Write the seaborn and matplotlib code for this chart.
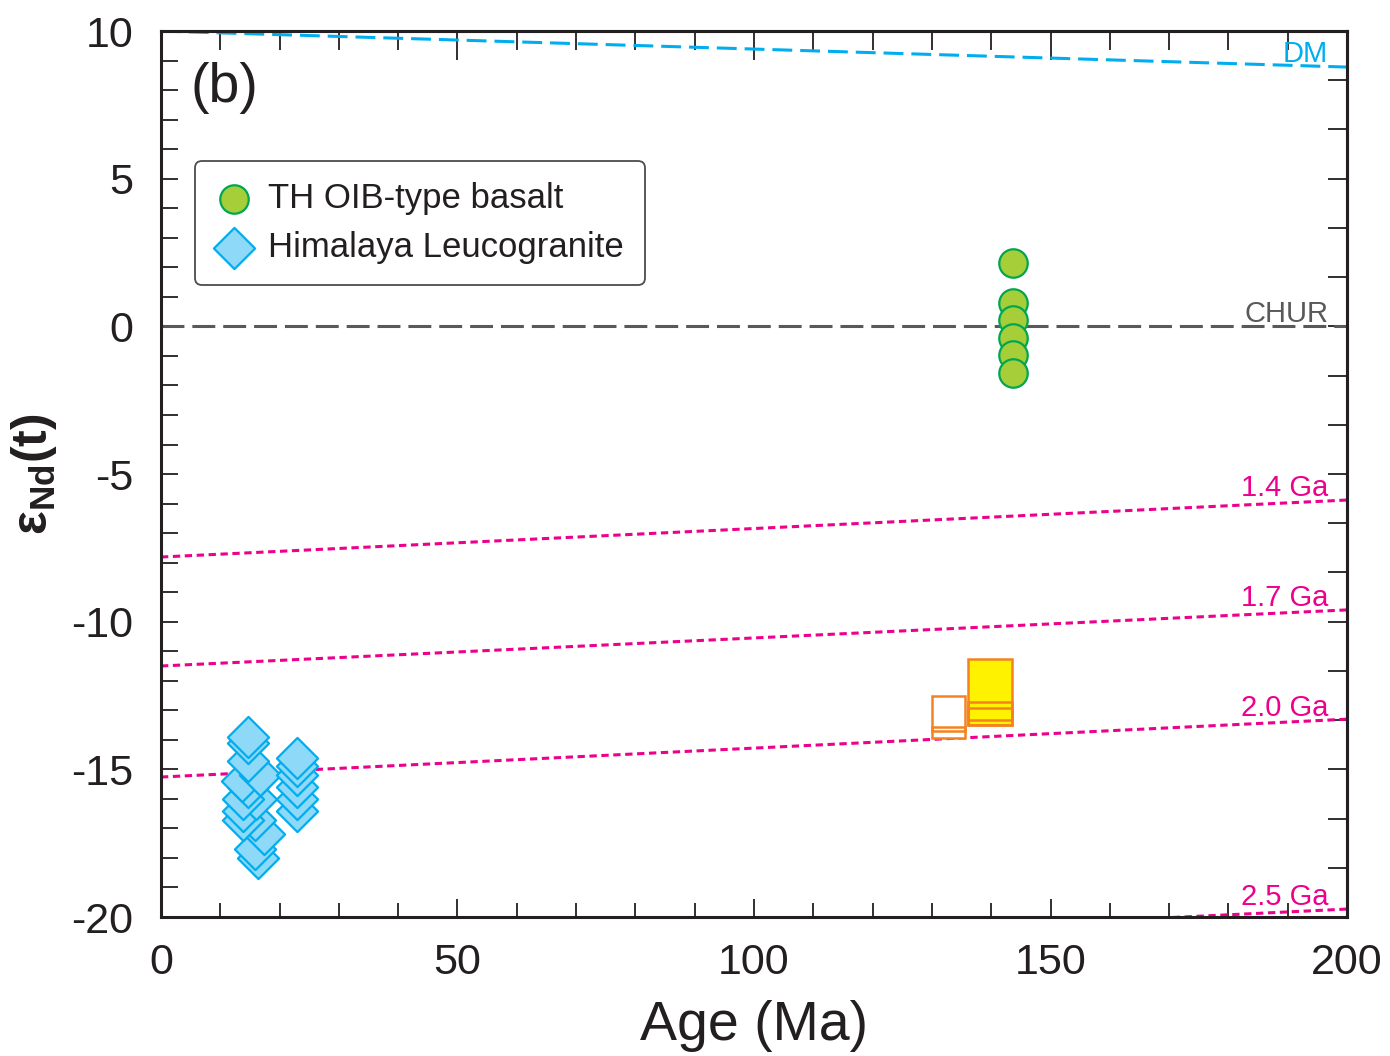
import numpy as np
import pandas as pd
import matplotlib
matplotlib.use("Agg")
import matplotlib.pyplot as plt
from matplotlib.patches import Rectangle
from matplotlib.ticker import MultipleLocator, FixedLocator, NullFormatter
import seaborn as sns

# ---- data -------------------------------------------------------------
basalt_age = [143.7, 143.7, 143.7, 143.7, 143.7, 143.7]
basalt_end = [2.13, 0.78, 0.21, -0.41, -0.97, -1.59]

leuco_age = [16.4, 15.9, 17.3, 15.9, 13.9, 13.9, 16.1, 13.9, 22.9, 22.9,
             14.7, 13.6, 16.7, 22.9, 22.9, 14.7, 22.9, 14.7, 22.9, 14.7]
leuco_end = [-18.0, -17.7, -17.2, -16.7, -16.7, -16.4, -16.0, -16.0, -16.4, -16.0,
             -15.6, -15.4, -15.2, -15.6, -15.2, -14.7, -14.9, -14.1, -14.6, -13.9]

# range boxes (age span x eNd span)
box_x0 = [130.0, 130.0, 136.1, 136.1, 136.1]
box_x1 = [135.6, 135.6, 143.5, 143.5, 143.5]
box_y0 = [-13.70, -13.94, -13.33, -13.50, -13.50]
box_y1 = [-12.52, -13.55, -11.27, -12.93, -12.72]
box_face = ["white", "white", "#FFF200", "#FFF200", "#FFF200"]

# reference evolution lines: value at 0 Ma and at 200 Ma
ref_names = ["DM", "CHUR", "1.4 Ga", "1.7 Ga", "2.0 Ga", "2.5 Ga"]
ref_start = [10.0, 0.0, -7.81, -11.50, -15.26, -21.67]
ref_end = [8.78, 0.0, -5.88, -9.60, -13.30, -19.73]
ref_age = [0, 200]

# ---- style ------------------------------------------------------------
sns.set_style("ticks")
plt.rcParams["font.family"] = ["Liberation Sans", "DejaVu Sans"]
plt.rcParams["mathtext.default"] = "regular"
plt.rcParams["axes.unicode_minus"] = False

ink = "#231F20"
pink = "#EC008C"
blue = "#00AEEF"
grey = "#58595B"
orange = "#F58220"

fig = plt.figure(figsize=(13.9, 10.56), dpi=100)
ax = fig.add_axes([0.1158, 0.1316, 0.9691 - 0.1158, 0.9706 - 0.1316])

# evolution lines
styles = {
    "DM": dict(color=blue, dashes=(6.5, 2.6)),
    "CHUR": dict(color=grey, dashes=(7.5, 2.6)),
}
for name, y0, y1 in zip(ref_names, ref_start, ref_end):
    st = styles.get(name, dict(color=pink, dashes=(2.4, 1.5)))
    line_df = pd.DataFrame({"age": ref_age, "end": [y0, y1]})
    sns.lineplot(data=line_df, x="age", y="end", ax=ax, color=st["color"],
                 linewidth=2.2, zorder=2)
    ax.lines[-1].set_dashes(st["dashes"])
    xl = 196.8
    yl = y0 + (y1 - y0) * xl / 200.0
    ax.text(xl, yl - 0.05, name, color=st["color"], fontsize=21,
            ha="right", va="bottom", zorder=3)

# range boxes: fills first, then outlines
for x0, x1, y0, y1, fc in zip(box_x0, box_x1, box_y0, box_y1, box_face):
    ax.add_patch(Rectangle((x0, y0), x1 - x0, y1 - y0, facecolor=fc,
                           edgecolor="none", zorder=3))
for x0, x1, y0, y1 in zip(box_x0, box_x1, box_y0, box_y1):
    ax.add_patch(Rectangle((x0, y0), x1 - x0, y1 - y0, facecolor="none",
                           edgecolor=orange, linewidth=1.8, zorder=4))

# sample points
basalt = pd.DataFrame({"age": basalt_age, "end": basalt_end})
leuco = pd.DataFrame({"age": leuco_age, "end": leuco_end})
sns.scatterplot(data=basalt, x="age", y="end", ax=ax, marker="o", s=420,
                color="#A6CE39", edgecolor="#00A651", linewidth=1.6,
                zorder=5, label="TH OIB-type basalt")
sns.scatterplot(data=leuco, x="age", y="end", ax=ax, marker="D", s=440,
                color="#8ED8F8", edgecolor=blue, linewidth=1.6,
                zorder=5, label="Himalaya Leucogranite")

# axes
ax.set_xlim(0, 200)
ax.set_ylim(-20, 10)
ax.xaxis.set_major_locator(MultipleLocator(50))
ax.xaxis.set_minor_locator(MultipleLocator(10))
ax.yaxis.set_major_locator(MultipleLocator(5))
ax.yaxis.set_minor_locator(MultipleLocator(1))
ax.tick_params(axis="both", which="both", direction="in", color=ink,
               labelsize=31, labelcolor=ink)
ax.tick_params(axis="x", which="major", length=13, width=1.3, pad=19)
ax.tick_params(axis="x", which="minor", length=10, width=1.3)
ax.tick_params(axis="y", which="major", length=12, width=1.3, pad=20)
ax.tick_params(axis="y", which="minor", length=12, width=1.3)
for sp in ax.spines.values():
    sp.set_linewidth(2.2)
    sp.set_color(ink)

top = ax.secondary_xaxis("top")
top.xaxis.set_major_locator(MultipleLocator(50))
top.xaxis.set_minor_locator(MultipleLocator(10))
top.tick_params(which="major", direction="in", length=21, width=1.3, color=ink)
top.tick_params(which="minor", direction="in", length=14, width=1.3, color=ink)
top.xaxis.set_major_formatter(NullFormatter())
top.spines["top"].set_linewidth(2.2)

right = ax.secondary_yaxis("right")
right.yaxis.set_major_locator(FixedLocator(np.linspace(-20, 10, 19)))
right.tick_params(which="major", direction="in", length=14, width=1.3, color=ink)
right.yaxis.set_major_formatter(NullFormatter())
right.spines["right"].set_linewidth(2.2)

ax.set_xlabel("Age (Ma)", fontsize=40, color=ink, labelpad=12)
ax.set_ylabel("ε$_{Nd}$(t)", fontsize=36, fontweight="bold", color=ink,
              labelpad=9)

ax.text(0.025, 0.965, "(b)", transform=ax.transAxes, fontsize=40,
        color=ink, ha="left", va="top")

leg = ax.legend(loc="upper left", bbox_to_anchor=(0.029, 0.853),
                fontsize=25, frameon=True, fancybox=True, handletextpad=0.5,
                borderpad=0.6, labelspacing=0.45, handlelength=1.0,
                borderaxespad=0)
leg.get_frame().set_edgecolor(ink)
leg.get_frame().set_linewidth(1.3)
for t in leg.get_texts():
    t.set_color(ink)

fig.savefig("out.png", dpi=100)
